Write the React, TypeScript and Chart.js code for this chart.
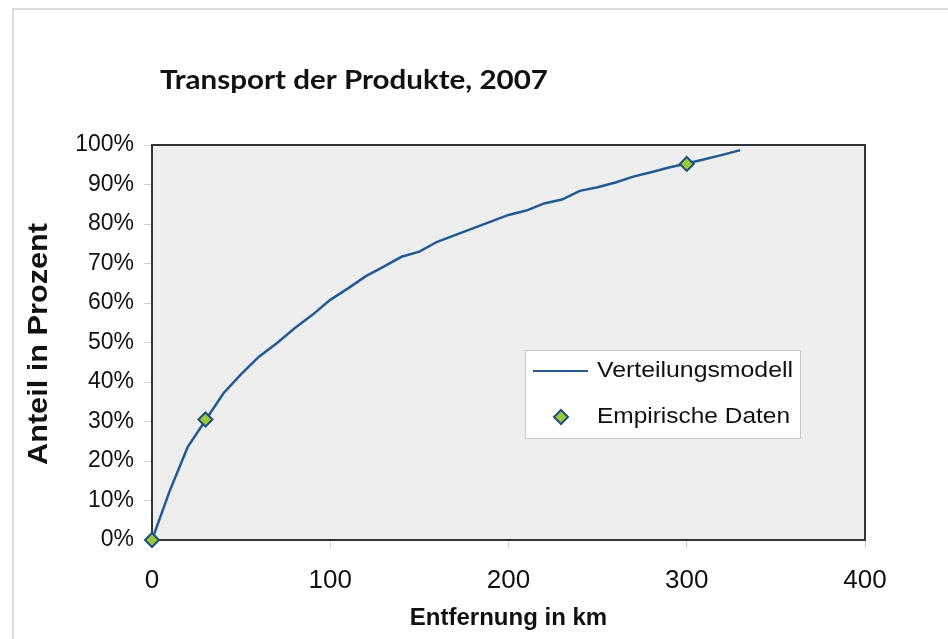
import React, { useEffect, useRef } from "react";
import { Chart, registerables } from "chart.js";

Chart.register(...registerables);

const chartTitle = "Transport der Produkte, 2007";
const xAxisTitle = "Entfernung in km";
const yAxisTitle = "Anteil in Prozent";
const modelLabel = "Verteilungsmodell";
const empiricalLabel = "Empirische Daten";

const modelKm = [0, 10, 20, 30, 40, 50, 60, 70, 80, 90, 100, 110, 120, 130, 140, 150, 160, 170, 180, 190, 200, 210, 220, 230, 240, 250, 260, 270, 280, 290, 300, 310, 320, 330];
const modelPct = [0, 12.5, 23.5, 30.3, 37.1, 42.0, 46.4, 49.8, 53.6, 57.0, 60.8, 63.7, 66.8, 69.2, 71.7, 73.0, 75.5, 77.2, 78.9, 80.6, 82.3, 83.4, 85.2, 86.2, 88.4, 89.3, 90.5, 92.0, 93.1, 94.3, 95.3, 96.4, 97.5, 98.7];

const empKm = [0, 30, 300];
const empPct = [0, 30.5, 95.2];

const xTicksMax = 400;
const yTicksMax = 100;

const LINE_COLOR = "#235a92";
const MARKER_FILL = "#9bc83a";
const MARKER_BORDER = "#1f4f7a";

function stretchedText(ctx: CanvasRenderingContext2D, text: string, x: number, y: number, targetWidth: number, angle = 0) {
  const w = ctx.measureText(text).width;
  const s = targetWidth / w;
  ctx.save();
  ctx.translate(x, y);
  ctx.rotate(angle);
  ctx.scale(s, 1);
  ctx.fillText(text, 0, 0);
  ctx.restore();
}

const plotBgPlugin = {
  id: "plotBg",
  beforeDraw(chart: any) {
    const { ctx, chartArea: a } = chart;
    ctx.save();
    ctx.fillStyle = "#eeeeee";
    ctx.fillRect(a.left, a.top, a.right - a.left, a.bottom - a.top);
    ctx.restore();
  },
  beforeDatasetsDraw(chart: any) {
    const { ctx, chartArea: a } = chart;
    ctx.save();
    ctx.strokeStyle = "#333333";
    ctx.lineWidth = 2;
    ctx.strokeRect(a.left, a.top, a.right - a.left, a.bottom - a.top);
    ctx.restore();
  },
  afterDraw(chart: any) {
    const { ctx } = chart;
    ctx.save();
    // chart title
    ctx.fillStyle = "#111111";
    ctx.font = "bold 26px Lato, 'Open Sans', sans-serif";
    ctx.textBaseline = "alphabetic";
    ctx.textAlign = "left";
    stretchedText(ctx, chartTitle, 160, 89, 388);
    // y axis title
    ctx.font = "bold 28px 'Liberation Sans', Arial, sans-serif";
    ctx.textAlign = "center";
    ctx.textBaseline = "middle";
    stretchedText(ctx, yAxisTitle, 39, 344, 242, -Math.PI / 2);
    // legend
    const lx = 525, ly = 350, lw = 275, lh = 88;
    ctx.fillStyle = "#ffffff";
    ctx.fillRect(lx, ly, lw, lh);
    ctx.strokeStyle = "#c8c8c8";
    ctx.lineWidth = 1;
    ctx.strokeRect(lx + 0.5, ly + 0.5, lw, lh);
    const ds = chart.data.datasets;
    ctx.font = "22px 'Liberation Sans', Arial, sans-serif";
    ctx.fillStyle = "#111111";
    ctx.textAlign = "left";
    ctx.textBaseline = "middle";
    ctx.strokeStyle = ds[1].borderColor;
    ctx.lineWidth = 2;
    ctx.beginPath();
    ctx.moveTo(533, 371);
    ctx.lineTo(588, 371);
    ctx.stroke();
    stretchedText(ctx, ds[1].label, 597, 371, 196);
    const mx = 561, my = 417, r = 7;
    ctx.beginPath();
    ctx.moveTo(mx, my - r);
    ctx.lineTo(mx + r, my);
    ctx.lineTo(mx, my + r);
    ctx.lineTo(mx - r, my);
    ctx.closePath();
    ctx.fillStyle = ds[0].backgroundColor;
    ctx.fill();
    ctx.strokeStyle = ds[0].borderColor;
    ctx.lineWidth = 2;
    ctx.stroke();
    ctx.fillStyle = "#111111";
    stretchedText(ctx, ds[0].label, 597, 417, 193);
    ctx.restore();
  },
};

export default function App() {
  const ref = useRef<HTMLCanvasElement | null>(null);
  useEffect(() => {
    if (!ref.current) return;
    const yTickFont = { family: "'Liberation Sans', Arial, sans-serif", size: 23 };
    const xTickFont = { family: "'Liberation Sans', Arial, sans-serif", size: 26 };
    const titleFont = { family: "'Liberation Sans', Arial, sans-serif", size: 24, weight: "bold" as const };
    const chart = new Chart(ref.current, {
      type: "scatter",
      data: {
        datasets: [
          {
            label: empiricalLabel,
            data: empKm.map((x, i) => ({ x, y: empPct[i] })),
            showLine: false,
            pointStyle: "rectRot",
            pointRadius: 7,
            backgroundColor: MARKER_FILL,
            borderColor: MARKER_BORDER,
            borderWidth: 2,
            clip: false,
            order: 0,
          },
          {
            label: modelLabel,
            data: modelKm.map((x, i) => ({ x, y: modelPct[i] })),
            showLine: true,
            pointRadius: 0,
            borderColor: LINE_COLOR,
            backgroundColor: LINE_COLOR,
            borderWidth: 2.5,
            tension: 0,
            order: 1,
          },
        ],
      },
      options: {
        animation: false,
        responsive: false,
        layout: { padding: { left: 12, top: 145, right: 83, bottom: 0 } },
        plugins: { legend: { display: false }, tooltip: { enabled: false }, title: { display: false } },
        scales: {
          x: {
            type: "linear",
            min: 0,
            max: xTicksMax,
            afterFit: (s: any) => { s.height = 99; },
            ticks: { stepSize: 100, font: xTickFont, color: "#111111", padding: 17 },
            grid: { drawOnChartArea: false, tickLength: 8, color: "#d0d0d0" },
            border: { color: "#333333", width: 2 },
            title: { display: true, text: xAxisTitle, font: titleFont, color: "#111111", padding: { top: 0, bottom: 6 } },
          },
          y: {
            type: "linear",
            min: 0,
            max: yTicksMax,
            afterFit: (s: any) => { s.width = 140; },
            ticks: { stepSize: 10, font: yTickFont, color: "#111111", padding: 10, callback: (v: any) => v + "%" },
            grid: { drawOnChartArea: false, tickLength: 8, color: "#d0d0d0" },
            border: { color: "#333333", width: 2 },
            title: { display: false, text: yAxisTitle },
          },
        },
      },
      plugins: [plotBgPlugin],
    });
    return () => chart.destroy();
  }, []);
  return (
    <div style={{ position: "fixed", left: 0, top: 0, width: 948, height: 639, overflow: "hidden", background: "#fff" }}>
      <div style={{ position: "absolute", left: 12, top: 8, width: 1000, height: 700, border: "2px solid #dcdcdc" }} />
      <canvas ref={ref} width={948} height={639} style={{ position: "absolute", left: 0, top: 0 }} />
    </div>
  );
}
